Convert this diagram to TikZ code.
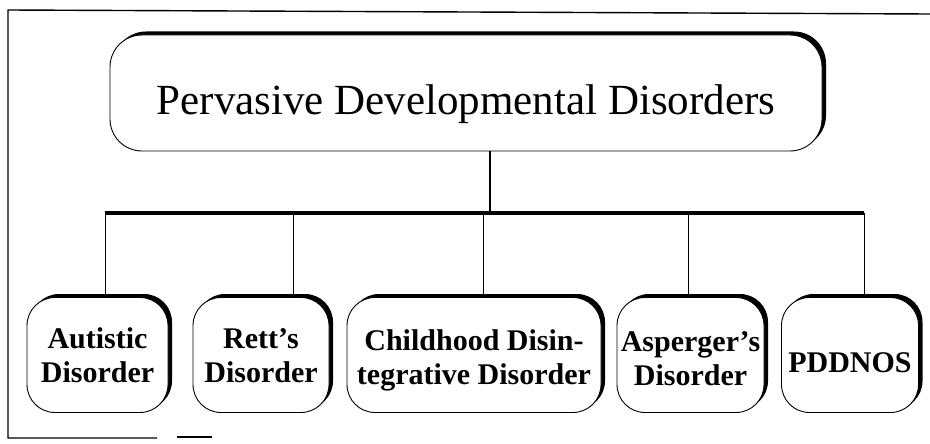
\documentclass[tikz,border=0pt]{standalone}
\usepackage{fontspec}
\setmainfont{Liberation Serif}
\usetikzlibrary{shadows}
\begin{document}
\begin{tikzpicture}[x=1pt,y=-1pt,
  box/.style={draw=black, line width=0.9pt, fill=white, rounded corners=28pt,
    inner sep=0pt, align=center,
    drop shadow={shadow xshift=4pt, shadow yshift=3.5pt, fill=black, opacity=1}},
  small/.style={box, minimum height=115pt, text height=55pt, text depth=0pt,
    font=\fontsize{30}{34}\selectfont\bfseries},
  frame/.style={line width=1.4pt},
  bar/.style={line width=3.5pt},
  stem/.style={line width=2.4pt},
  drop/.style={line width=1pt}]
\useasboundingbox (0,0) rectangle (930,444);
% frame
\coordinate (f1) at (8,10);
\coordinate (f2) at (930,14);
\coordinate (f3) at (8,438);
\coordinate (f4) at (157,438);
\coordinate (f5) at (177,437);
\coordinate (f6) at (212,437);
\draw[frame] (f2) -- (f1) -- (f3) -- (f4);
\draw[frame] (f5) -- (f6);
% top node
\node[box, rounded corners=32pt, minimum width=712pt, minimum height=116pt,
  text height=42pt, text depth=0pt,
  font=\fontsize{43}{48}\selectfont] (top) at (466,93) {Pervasive Developmental Disorders};
% bottom nodes
\node[small, minimum width=141pt] (aut) at (97.5,355) {Autistic\\Disorder};
\node[small, minimum width=136pt] (ret) at (261,355) {Rett’s\\Disorder};
\node[small, minimum width=254pt, text height=58pt] (chi) at (474,355) {Childhood Disin-\\tegrative Disorder};
\node[small, minimum width=147pt, text height=60pt] (asp) at (690.5,355) {Asperger’s\\Disorder};
\node[small, minimum width=137pt, text height=34pt] (pdd) at (850,355) {PDDNOS};
% connectors
\coordinate (b1) at (105,213);
\coordinate (b2) at (293,213);
\coordinate (b3) at (483,213);
\coordinate (b4) at (688,213);
\coordinate (b5) at (864,213);
\coordinate (s) at (490,213);
\draw[stem] (s |- top.south) -- (s);
\draw[bar] (b1) -- (b5);
\draw[drop] (b1) -- (b1 |- aut.north);
\draw[drop] (b2) -- (b2 |- ret.north);
\draw[drop] (b3) -- (b3 |- chi.north);
\draw[drop] (b4) -- (b4 |- asp.north);
\draw[drop] (b5) -- (b5 |- pdd.north);
\end{tikzpicture}
\end{document}
